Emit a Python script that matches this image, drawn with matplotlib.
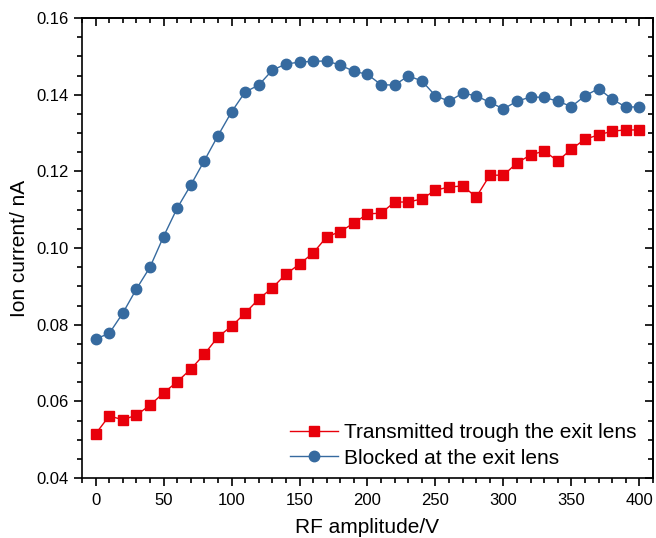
import numpy as np
import matplotlib
matplotlib.use('Agg')
import matplotlib.pyplot as plt
from matplotlib.ticker import MultipleLocator

rf = np.arange(0, 401, 10)

transmitted = [
    0.0515, 0.0562, 0.0552, 0.0564, 0.0590, 0.0622, 0.0651, 0.0684, 0.0723, 0.0768,
    0.0796, 0.0830, 0.0867, 0.0896, 0.0932, 0.0958, 0.0987, 0.1029, 0.1043, 0.1065,
    0.1089, 0.1091, 0.1120, 0.1120, 0.1128, 0.1151, 0.1159, 0.1162, 0.1133, 0.1190,
    0.1190, 0.1222, 0.1243, 0.1253, 0.1227, 0.1258, 0.1284, 0.1295, 0.1305, 0.1308,
    0.1308,
]

blocked = [
    0.0763, 0.0777, 0.0830, 0.0893, 0.0950, 0.1030, 0.1104, 0.1164, 0.1228, 0.1293,
    0.1355, 0.1407, 0.1425, 0.1464, 0.1480, 0.1485, 0.1487, 0.1488, 0.1477, 0.1461,
    0.1453, 0.1426, 0.1425, 0.1449, 0.1436, 0.1397, 0.1383, 0.1404, 0.1397, 0.1380,
    0.1363, 0.1383, 0.1394, 0.1393, 0.1383, 0.1369, 0.1397, 0.1416, 0.1388, 0.1368,
    0.1368,
]

labels = ['Transmitted trough the exit lens', 'Blocked at the exit lens']

plt.rcParams['font.family'] = ['Liberation Sans', 'DejaVu Sans']

fig = plt.figure(figsize=(6.56, 5.38), dpi=100)
ax = fig.add_axes([0.125, 0.1115, 0.8704, 0.855])

ax.plot(rf, transmitted, color='#e8000b', marker='s', markersize=6.5, lw=1, label=labels[0])
ax.plot(rf, blocked, color='#366a9f', marker='o', markersize=7.5, lw=1, label=labels[1])

ax.set_xlim(-10, 410)
ax.set_ylim(0.04, 0.16)
ax.xaxis.set_major_locator(MultipleLocator(50))
ax.xaxis.set_minor_locator(MultipleLocator(10))
ax.yaxis.set_major_locator(MultipleLocator(0.02))
ax.yaxis.set_minor_locator(MultipleLocator(0.005))
ax.yaxis.set_major_formatter(plt.FuncFormatter(lambda v, p: f'{v:.2f}'))

ax.tick_params(which='both', direction='out', top=False, right=False, labelsize=12, width=1.2)
ax.tick_params(which='major', length=6)
ax.tick_params(which='minor', length=3.5)
ax.tick_params(axis='x', pad=5)

# inward ticks on top and right
secx = ax.secondary_xaxis('top')
secx.xaxis.set_major_locator(MultipleLocator(50))
secx.xaxis.set_minor_locator(MultipleLocator(10))
secx.tick_params(which='both', direction='in', labeltop=False, width=1.2)
secx.tick_params(which='major', length=6)
secx.tick_params(which='minor', length=3.5)
secy = ax.secondary_yaxis('right')
secy.yaxis.set_major_locator(MultipleLocator(0.02))
secy.yaxis.set_minor_locator(MultipleLocator(0.005))
secy.tick_params(which='both', direction='in', labelright=False, width=1.2)
secy.tick_params(which='major', length=6)
secy.tick_params(which='minor', length=3.5)

for s in ax.spines.values():
    s.set_linewidth(1.2)
secx.spines['top'].set_linewidth(1.2)
secy.spines['right'].set_linewidth(1.2)

ax.set_xlabel('RF amplitude/V', fontsize=15, labelpad=7)
ax.set_ylabel('Ion current/ nA', fontsize=15, labelpad=5)

ax.legend(loc='lower right', bbox_to_anchor=(0.99, 0.0), frameon=False, fontsize=15,
          handlelength=2.3, handletextpad=0.3, labelspacing=0.3, borderaxespad=0.1)

plt.savefig('out.png', dpi=100)
